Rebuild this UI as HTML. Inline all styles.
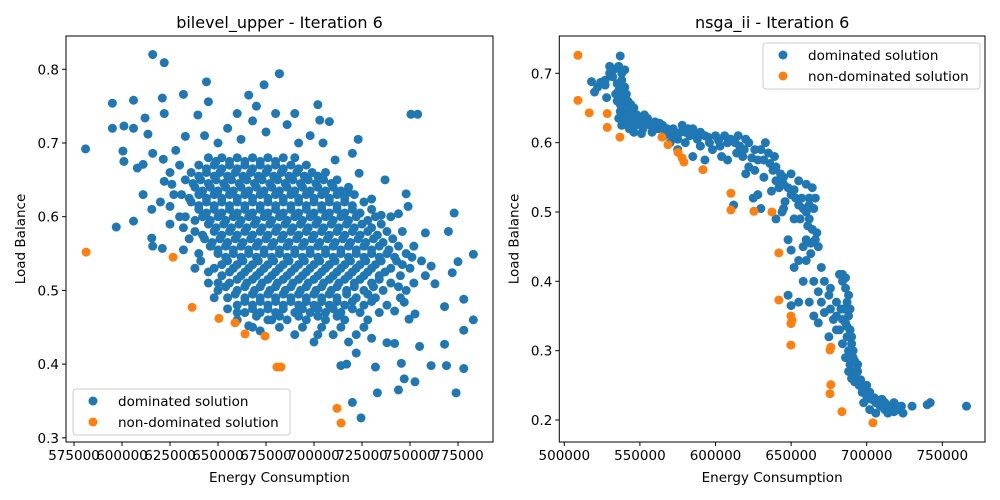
<!DOCTYPE html>
<html><head><meta charset="utf-8"><style>
body{margin:0;background:#fff;}
svg{display:block;font-family:"DejaVu Sans","Liberation Sans",sans-serif;}
</style></head><body>
<svg id="chart" width="1000" height="500" viewBox="0 0 1000 500" xmlns="http://www.w3.org/2000/svg"></svg>
<script>
// Left chart data (x in thousands)
const leftDominated = [
[616,0.82],[622,0.809],[595,0.754],[606,0.758],[621,0.761],[632,0.766],[644,0.783],[682,0.794],[595,0.72],[601,0.723],[606,0.72],[612,0.734],[622,0.74],[581,0.692],[600.5,0.689],[601,0.675],[616,0.686],[613.5,0.712],[608,0.666],[611,0.63],[597,0.586],[606,0.594],[615.5,0.61],[615.5,0.571],[621,0.557],[616,0.56],[611,0.671],[621.5,0.678],[625,0.614],[626,0.644],[633,0.709],[639.5,0.738],[645,0.756],[674,0.779],[666,0.765],
[682,0.794],[702,0.752],[703,0.731],[708,0.729],[750.5,0.739],[754,0.739],[723,0.705],[704.7,0.7],[720,0.686],[737,0.65],[748,0.631],[749,0.614],[773,0.605],[770,0.58],[783,0.549],[758,0.578],[775,0.539],[772,0.524],[744,0.604],[778,0.488],[783,0.46],[778,0.446],[768,0.427],[761,0.398],[769,0.398],[778,0.394],[774,0.361],[752.6,0.376],[747,0.38],[744,0.365],[733,0.361],[732,0.396],[745.5,0.401],[720,0.348],[724.5,0.327],[714,0.398],[717,0.4],[738,0.429],[742,0.428],[755,0.424],[722,0.415],[730,0.435],[749.5,0.461],[752.6,0.468],[742,0.472],[747,0.484],[768,0.478],[763,0.509],[761,0.533],[751,0.545],[735,0.602],[730,0.624],[718,0.633],[723.5,0.659],[711,0.677],
[628,0.69],[630,0.67],[625,0.66],[622,0.648],[627,0.63],[620,0.62],[630,0.6],[625,0.59],[635,0.57],[632,0.555],[640,0.55],[645,0.525],[638,0.53],[650,0.51],[648,0.49],[655,0.475],[660,0.47],[672,0.445],[666,0.452],[678,0.46],[646,0.56],[632,0.585],
[655,0.72],[662,0.705],[668,0.73],[675,0.715],[686,0.725],[692,0.7],[698,0.71],[670,0.75],[680,0.74],[650,0.7],[643,0.71],[660,0.74],[690,0.74]
];
const coreRowsY = [0.68,0.67,0.66,0.65,0.64,0.63,0.62,0.61,0.60,0.59,0.58,0.57,0.56,0.55,0.54,0.53,0.52,0.51,0.50,0.49,0.48,0.47,0.46,0.45,0.44,0.43];
const coreRowsX = [
[645,652,660,668,676,684,690],
[640,648,656,664,672,680,688,696],
[636,644,651,659,667,675,683,691,699,706],
[633,641,649,657,665,673,681,689,697,705,712],
[638,646,654,662,670,678,686,694,702,710,718],
[631,640,648,656,664,672,680,688,696,704,712,721],
[636,644,652,660,668,676,684,692,700,708,716,726],
[640,648,656,664,672,680,688,696,704,712,720,730],
[633,642,650,658,666,674,682,690,698,706,714,722,732,740],
[645,653,661,669,677,685,693,701,709,717,725,735],
[638,648,656,664,672,680,688,696,704,712,720,728,738,746],
[643,651,659,667,675,683,691,699,707,715,723,731,741],
[646,654,662,670,678,686,694,702,710,718,726,734,744,752],
[650,658,666,674,682,690,698,706,714,722,730,738,748],
[641,655,663,671,679,687,695,703,711,719,727,735,743,756],
[648,658,666,674,682,690,698,706,714,722,730,740,750],
[652,662,670,678,686,694,702,710,718,726,734,745,758],
[645,656,665,673,681,689,697,705,713,721,730,740,752],
[650,660,669,677,685,693,701,709,717,726,736,748],
[655,664,672,680,688,696,704,712,722,732,745],
[660,668,676,684,692,700,708,716,726,738],
[664,672,680,690,698,706,714,724,734],
[660,676,686,696,706,716,728],
[668,682,694,704,714,726],
[690,702,710,722],
[700,718]
];
const fillRowsY = [0.675,0.665,0.655,0.645,0.635,0.625,0.615,0.605,0.595,0.585,0.575,0.565,0.555,0.545,0.535,0.525,0.515,0.505,0.495,0.485,0.475,0.465];
const fillRowsX = [
[649,656,664,672,680],
[644,652,660,668,676,684,692],
[640,648,655,663,671,679,687,695,702],
[637,645,653,661,669,677,685,693,701,709],
[642,650,658,666,674,682,690,698,706,714],
[635,644,652,660,668,676,684,692,700,708,716],
[640,648,656,664,672,680,688,696,704,712,720],
[644,652,660,668,676,684,692,700,708,716,724],
[638,646,654,662,670,678,686,694,702,710,718,728],
[649,657,665,673,681,689,697,705,713,721,730],
[642,652,660,668,676,684,692,700,708,716,724,733],
[647,655,663,671,679,687,695,703,711,719,727,736],
[650,658,666,674,682,690,698,706,714,722,730,739],
[654,662,670,678,686,694,702,710,718,726,734,742],
[652,660,668,676,684,692,700,708,716,724,732,746],
[656,664,672,680,688,696,704,712,720,728,737],
[660,668,676,684,692,700,708,716,724,734],
[654,664,672,680,688,696,704,712,721,731,744],
[659,668,676,684,692,700,708,717,728],
[664,672,680,688,696,704,712,720,730],
[668,676,684,694,702,710,720],
[670,682,692,702,712]
];
const leftNonDominated = [[581.3,0.552],[626.6,0.545],[636.5,0.477],[650.5,0.462],[658.9,0.456],[664.1,0.441],[674.5,0.438],[680.7,0.396],[682.8,0.396],[712,0.34],[714.1,0.32]];
const leftXTicks = [575000,600000,625000,650000,675000,700000,725000,750000,775000];
const leftYTicks = [0.3,0.4,0.5,0.6,0.7,0.8];

// Right chart data
const rightDominated = [
[537,0.725],[533,0.706],[530,0.7],[527,0.69],[524,0.687],[522,0.68],[520,0.673],[518,0.688],[527,0.683],[532,0.695],[536,0.71],[540,0.705],[538,0.69],[535,0.685],[540,0.68],[536,0.675],[538,0.665],[541,0.67],[535,0.66],[539,0.655],[537,0.645],[542,0.66],[540,0.64],[536,0.635],[541,0.63],[538,0.625],[543,0.62],[545,0.635],[546,0.65],[544,0.645],[548,0.64],[550,0.63],[547,0.625],[552,0.62],[555,0.635],[557,0.625],[553,0.64],[560,0.63],[562,0.62],[558,0.615],[565,0.625],[568,0.62],[566,0.61],[570,0.612],[572,0.62],[575,0.605],[578,0.625],[580,0.615],[583,0.61],[585,0.62],[588,0.605],[590,0.615],[593,0.61],[596,0.6],[600,0.61],[598,0.59],[603,0.595],[606,0.61],[610,0.605],[613,0.6],[616,0.595],[620,0.605],[618,0.58],[622,0.565],[626,0.56],[628,0.575],[630,0.59],[633,0.6],[635,0.585],[636,0.57],[632,0.55],[638,0.56],[640,0.545],[637,0.53],[642,0.535],[645,0.54],[648,0.535],[650,0.525],[646,0.515],[653,0.52],[655,0.51],[658,0.505],[660,0.5],[656,0.49],[661,0.48],[664,0.475],[667,0.47],[663,0.455],[660,0.46],[648,0.46],[650,0.445],[652,0.42],[655,0.43],[658,0.4],[665,0.4],[668,0.385],[662,0.37],[670,0.37],[672,0.355],[676,0.36],[678,0.345],[675,0.32],[680,0.33],[682,0.41],[684,0.4],[686,0.39],[687,0.37],[685,0.36],[688,0.35],[686,0.34],[689,0.33],[687,0.32],[690,0.31],[688,0.3],[691,0.29],[689,0.28],[692,0.27],[693,0.26],[695,0.25],[690,0.26],[697,0.24],[700,0.235],[703,0.23],[706,0.225],[709,0.22],[712,0.215],[715,0.22],[718,0.225],[721,0.215],[724,0.21],[698,0.225],[702,0.215],[706,0.21],[710,0.23],[714,0.21],[718,0.212],[723,0.22],[730,0.22],[740,0.222],[742,0.225],[766,0.22],[640,0.49],[645,0.505],[644,0.5],[628,0.525],[630,0.505],[625,0.52],[612,0.51],[608,0.575],[604,0.58],[615,0.61],[622,0.6],[620,0.555],[652,0.49],[658,0.45],[663,0.44],[660,0.43],[648,0.38],[650,0.365],[655,0.37],[665,0.35],[668,0.34],[675,0.38],[680,0.35],[682,0.33],[684,0.31],[686,0.29],[688,0.27],[694,0.28],[530,0.71],[528,0.665],[534,0.67],[544,0.655],[560,0.62],[546,0.615],[551,0.613],[570,0.6],[580,0.6],[590,0.595],[575,0.59],[585,0.58],[593,0.575],[614,0.585],[626,0.59],[639,0.58],[643,0.555],[650,0.555],[655,0.545],[660,0.54],[664,0.535],[666,0.52],[662,0.52],
[538,0.7],[539,0.675],[537,0.655],[539,0.635],[542,0.645],[544,0.63],[549,0.632],[554,0.628],[563,0.628],[567,0.615],[573,0.61],[577,0.615],[582,0.62],[587,0.612],[595,0.608],[602,0.603],[608,0.6],[619,0.59],[624,0.578],[632,0.575],[640,0.565],[645,0.55],[652,0.532],[657,0.52],[662,0.51],[665,0.505],[662,0.49],[666,0.46],[668,0.45],[670,0.42],[672,0.4],[676,0.39],[680,0.37],[683,0.36],[684,0.345],[687,0.335],[690,0.32],[691,0.3],[692,0.285],[694,0.27],[696,0.258],[698,0.245],[702,0.24],[705,0.232],[708,0.228],[712,0.225],[716,0.215],[720,0.22],[700,0.25],[692,0.255],[689,0.36],[688,0.38],[686,0.405],[684,0.41]
];
const rightNonDominated = [[509,0.726],[509,0.661],[516.5,0.643],[528.4,0.642],[528.4,0.622],[536.8,0.608],[564.6,0.608],[568.6,0.597],[575.2,0.586],[577.9,0.578],[579.1,0.572],[591.7,0.561],[610.2,0.527],[610.2,0.503],[625.4,0.501],[637.3,0.5],[641.9,0.441],[641.9,0.373],[649.9,0.35],[650.6,0.344],[649.9,0.339],[649.9,0.308],[676.3,0.305],[675.7,0.301],[676.3,0.251],[675.7,0.238],[683.6,0.212],[704.1,0.196]];
const rightXTicks = [500000,550000,600000,650000,700000,750000];
const rightYTicks = [0.2,0.3,0.4,0.5,0.6,0.7];

const NS='http://www.w3.org/2000/svg';
const svg=document.getElementById('chart');
function mk(tag,attrs,parent){const e=document.createElementNS(NS,tag);for(const k in attrs)e.setAttribute(k,attrs[k]);(parent||svg).appendChild(e);return e;}
const R=4.5;
function drawPanel(cfg){
  const g=mk('g',{});
  
  
  const sx=v=>cfg.x0px+(v-cfg.x0)*cfg.xs;
  const sy=v=>cfg.y0px-(v-cfg.y0)*cfg.ys;
  const pts=mk('g',{},g);
  
  
  cfg.dom.forEach(p=>{
    const c=mk('circle',{cx:sx(p[0]*1000),cy:sy(p[1]),r:R,fill:'#1f77b4'},pts);
    
    
  });
  const nd=mk('g',{},g);
  
  
  cfg.nd.forEach(p=>{
    const c=mk('circle',{cx:sx(p[0]*1000),cy:sy(p[1]),r:R,fill:'#ff7f0e'},nd);
    
    
  });
  const fr=mk('rect',{x:cfg.L,y:cfg.T,width:cfg.R-cfg.L,height:cfg.B-cfg.T,fill:'none',stroke:'#000','stroke-width':1},g);
  
  
  cfg.xt.forEach(t=>{
    const x=sx(t);
    mk('line',{x1:x,x2:x,y1:cfg.B,y2:cfg.B+4,stroke:'#000'},g);
    const tx=mk('text',{x:x,y:cfg.B+18,'font-size':13.5,'text-anchor':'middle',fill:'#000'},g);
    tx.textContent=String(t);
    
    
  });
  cfg.yt.forEach(t=>{
    const y=sy(t);
    mk('line',{x1:cfg.L-4,x2:cfg.L,y1:y,y2:y,stroke:'#000'},g);
    const tx=mk('text',{x:cfg.L-7,y:y+5,'font-size':13.5,'text-anchor':'end',fill:'#000'},g);
    tx.textContent=t.toFixed(1);
    
    
  });
  const ti=mk('text',{x:(cfg.L+cfg.R)/2,y:28,'font-size':16,'text-anchor':'middle'},g);
  ti.textContent=cfg.title;
  
  
  const xl=mk('text',{x:(cfg.L+cfg.R)/2,y:482,'font-size':13.5,'text-anchor':'middle'},g);
  xl.textContent='Energy Consumption';
  
  
  const yx=cfg.L-41, yy=(cfg.T+cfg.B)/2;
  const yl=mk('text',{x:yx,y:yy,'font-size':13.5,'text-anchor':'middle',transform:`rotate(-90 ${yx} ${yy})`},g);
  yl.textContent='Load Balance';
  
  
  const lg=mk('g',{},g);
  
  
  mk('rect',{x:cfg.lgx,y:cfg.lgy,width:217,height:46,rx:3,fill:'#fff','fill-opacity':0.8,stroke:'#ccc'},lg);
  [['dominated solution','#1f77b4'],['non-dominated solution','#ff7f0e']].forEach((e,i)=>{
    const cy=cfg.lgy+12+i*21;
    mk('circle',{cx:cfg.lgx+20,cy:cy,r:R,fill:e[1]},lg);
    const t=mk('text',{x:cfg.lgx+45,y:cy+5,'font-size':13.5},lg);
    t.textContent=e[0];
    
    
  });
}

const leftAll=leftDominated.slice();
coreRowsY.forEach((y,i)=>coreRowsX[i].forEach(x=>leftAll.push([x,y])));
fillRowsY.forEach((y,i)=>fillRowsX[i].forEach(x=>leftAll.push([x,y])));

drawPanel({name:'left-panel',title:'bilevel_upper - Iteration 6',dom:leftAll,nd:leftNonDominated,xt:leftXTicks,yt:leftYTicks,
  L:66,R:493,T:36,B:442,x0:575000,x0px:74,xs:48/25000,y0:0.8,y0px:69.3,ys:737,lgx:73,lgy:389});
drawPanel({name:'right-panel',title:'nsga_ii - Iteration 6',dom:rightDominated,nd:rightNonDominated,xt:rightXTicks,yt:rightYTicks,
  L:559.3,R:985,T:36,B:442,x0:500000,x0px:564.3,xs:378/250000,y0:0.7,y0px:73.3,ys:693.4,lgx:763,lgy:43});
</script>
</body></html>
